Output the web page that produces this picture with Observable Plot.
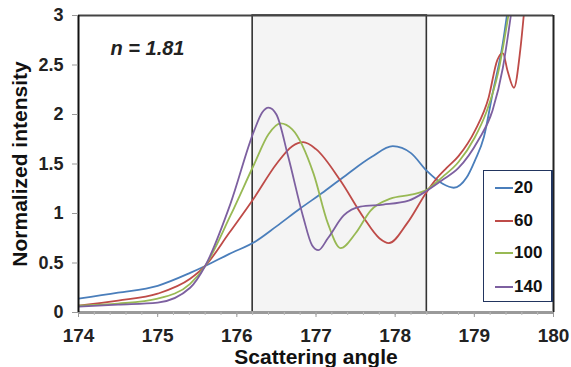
<!DOCTYPE html>
<html>
<head>
<meta charset="utf-8">
<script src="https://cdn.jsdelivr.net/npm/d3@7"></script>
<script src="https://cdn.jsdelivr.net/npm/@observablehq/plot@0.6"></script>
<style>
  html, body { margin: 0; padding: 0; background: #fff; }
  #wrap { position: relative; width: 571px; height: 367px; overflow: hidden; font-family: "Liberation Sans", Arial, sans-serif; }
  #legend { position: absolute; left: 483px; top: 170px; width: 70px; height: 132px; box-sizing: border-box;
            border: 1.5px solid #22355f; border-right-width: 2.5px; background: #fff; }
  .item { position: absolute; left: 11px; height: 20px; display: flex; align-items: center; }
  .swatch { width: 18px; height: 2px; margin-right: 1px; }
  .lbl { font-weight: bold; font-size: 17px; color: #111; }
</style>
</head>
<body>
<div id="wrap"></div>
<script>
// ---- data ----
const seriesNames = ["20", "60", "100", "140"];
const seriesColors = ["#4a7ebb", "#be4b48", "#98b954", "#7d60a0"];

const angles20    = [174.0, 174.5, 175.0, 175.41, 175.6, 175.9, 176.24, 176.5, 176.8, 177.1, 177.4, 177.7, 177.97, 178.2, 178.4, 178.6, 178.74, 178.9, 179.01, 179.12, 179.23, 179.36, 179.42];
const intensity20 = [0.14, 0.20, 0.27, 0.40, 0.47, 0.59, 0.72, 0.87, 1.05, 1.22, 1.40, 1.57, 1.68, 1.61, 1.43, 1.30, 1.26, 1.36, 1.54, 1.77, 2.21, 2.72, 3.05];

const angles60    = [174.0, 174.5, 175.0, 175.41, 175.6, 175.9, 176.22, 176.5, 176.7, 176.84, 177.0, 177.31, 177.6, 177.8, 177.92, 178.15, 178.4, 178.51, 178.65, 178.8, 179.01, 179.18, 179.29, 179.36, 179.42, 179.5, 179.58, 179.63];
const intensity60 = [0.07, 0.12, 0.19, 0.34, 0.47, 0.80, 1.16, 1.50, 1.68, 1.72, 1.65, 1.33, 0.96, 0.75, 0.70, 0.90, 1.22, 1.34, 1.46, 1.58, 1.84, 2.17, 2.55, 2.62, 2.44, 2.27, 2.65, 3.05];

const angles100    = [174.0, 174.5, 175.0, 175.41, 175.6, 175.92, 176.22, 176.4, 176.55, 176.7, 176.97, 177.15, 177.31, 177.5, 177.69, 177.94, 178.2, 178.4, 178.6, 178.8, 179.0, 179.15, 179.3, 179.44];
const intensity100 = [0.07, 0.09, 0.14, 0.29, 0.47, 0.98, 1.50, 1.80, 1.91, 1.85, 1.40, 0.90, 0.65, 0.80, 1.03, 1.15, 1.19, 1.24, 1.37, 1.52, 1.76, 2.02, 2.42, 3.05];

const angles140    = [174.0, 174.5, 175.0, 175.41, 175.6, 175.92, 176.22, 176.32, 176.4, 176.5, 176.65, 176.84, 176.95, 177.03, 177.15, 177.35, 177.56, 177.85, 178.17, 178.4, 178.6, 178.8, 179.05, 179.23, 179.36, 179.47];
const intensity140 = [0.06, 0.08, 0.10, 0.25, 0.47, 1.10, 1.84, 2.02, 2.07, 2.00, 1.57, 0.96, 0.68, 0.63, 0.75, 0.98, 1.07, 1.09, 1.13, 1.23, 1.34, 1.46, 1.74, 2.04, 2.47, 3.05];

const shadedRegion = [{from: 176.2, to: 178.4}];
const xTicks = [174, 175, 176, 177, 178, 179, 180];
const xMinorTicks = d3.range(174, 180.001, 0.2).map(v => +v.toFixed(1));
const yTicks = [0, 0.5, 1, 1.5, 2, 2.5, 3];
const annotation = ["n = 1.81"];
const xTitle = ["Scattering angle"];
const yTitle = ["Normalized intensity"];

// ---- build table ----
const allAngles = [angles20, angles60, angles100, angles140];
const allIntensity = [intensity20, intensity60, intensity100, intensity140];
const rows = [];
seriesNames.forEach((name, i) => {
  allAngles[i].forEach((a, j) => rows.push({series: name, angle: a, value: allIntensity[i][j]}));
});

const chart = Plot.plot({
  width: 571,
  height: 367,
  marginLeft: 78,
  marginRight: 18,
  marginTop: 15,
  marginBottom: 55,
  style: {fontFamily: "'Liberation Sans', Arial, sans-serif", background: "transparent", overflow: "visible"},
  x: {domain: [174, 180]},
  y: {domain: [0, 3]},
  color: {domain: seriesNames, range: seriesColors},
  marks: [
    Plot.rect(shadedRegion, {x1: "from", x2: "to", y1: 0, y2: 3, fill: "#f4f4f4", stroke: "#333", strokeWidth: 1.6}),
    Plot.line(rows, {x: "angle", y: "value", z: "series", stroke: "series", curve: "monotone-x", strokeWidth: 1.8, clip: true}),
    Plot.ruleY([3], {stroke: "#444", strokeWidth: 2}),
    Plot.ruleX([180], {stroke: "#222", strokeWidth: 2}),
    Plot.ruleY([0], {stroke: "#9a9a9a", strokeWidth: 3}),
    Plot.ruleX([174], {stroke: "#111", strokeWidth: 2}),
    Plot.axisX(xMinorTicks, {tickSize: 3, stroke: "#bbb", text: null, label: null}),
    Plot.axisX(xTicks, {tickSize: 5, stroke: "#999", tickPadding: 11, fontSize: 19, fontWeight: "bold", fill: "#222", label: null, tickFormat: d => String(d)}),
    Plot.axisY(yTicks, {tickSize: 6, stroke: "#999", tickPadding: 9, fontSize: 18, fontWeight: "bold", fill: "#222", label: null, tickFormat: d => String(d)}),
    Plot.text(annotation, {frameAnchor: "top-left", text: d => d, dx: 32, dy: 25, lineAnchor: "top", textAnchor: "start", fontSize: 20, fontWeight: "bold", fontStyle: "italic", fill: "#222"}),
    Plot.text(xTitle, {frameAnchor: "bottom", text: d => d, dy: 37, lineAnchor: "top", fontSize: 21, fontWeight: "bold", fill: "#111"}),
    Plot.text(yTitle, {frameAnchor: "left", text: d => d, dx: -58, rotate: -90, textAnchor: "middle", fontSize: 21, fontWeight: "bold", fill: "#111"})
  ]
});

const wrap = document.getElementById("wrap");
wrap.appendChild(chart);

// legend
const legend = document.createElement("div");
legend.id = "legend";
const offsets = [7, 40, 72, 106];
seriesNames.forEach((name, i) => {
  const item = document.createElement("div");
  item.className = "item";
  item.style.top = offsets[i] + "px";
  const sw = document.createElement("span");
  sw.className = "swatch";
  sw.style.background = seriesColors[i];
  const lb = document.createElement("span");
  lb.className = "lbl";
  lb.textContent = name;
  item.appendChild(sw);
  item.appendChild(lb);
  legend.appendChild(item);
});
wrap.appendChild(legend);
</script>
</body>
</html>
